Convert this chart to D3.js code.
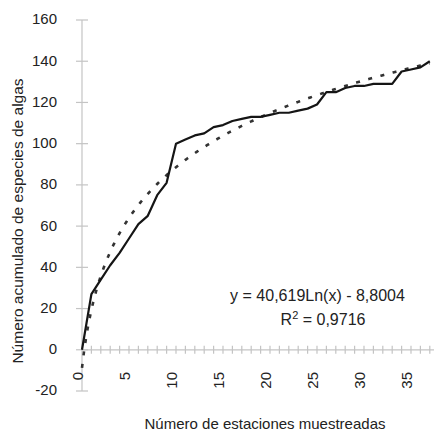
<!DOCTYPE html>
<html>
<head>
<meta charset="utf-8">
<script src="https://cdn.jsdelivr.net/npm/d3@7/dist/d3.min.js"></script>
<style>
  html, body { margin: 0; padding: 0; background: #fff; }
  svg { display: block; font-family: "Liberation Sans", Arial, Helvetica, sans-serif; }
</style>
</head>
<body>
<svg id="chart" width="434" height="433"></svg>
<script>
// Cumulative number of algae species against number of sampled stations
const stations = d3.range(0, 38);
const species = [0, 27, 34, 41, 47, 54, 61, 65, 75, 81,
                 100, 102, 104, 105, 108, 109, 111, 112, 113, 113,
                 114, 115, 115, 116, 117, 119, 125, 125, 127, 128,
                 128, 129, 129, 129, 135, 136, 137, 140];

// Logarithmic trend line (x = category index, starting at 1)
const trendA = 40.619;
const trendB = -8.8004;
const equationText = "y = 40,619Ln(x) - 8,8004";
const r2Text = "0,9716";

const yTicks = [-20, 0, 20, 40, 60, 80, 100, 120, 140, 160];
const xTickLabels = [0, 5, 10, 15, 20, 25, 30, 35];
const xTitle = "Número de estaciones muestreadas";
const yTitle = "Número acumulado de especies de algas";

const svg = d3.select("#chart");

const x = d3.scaleLinear().domain([0, 37]).range([82, 429.8]);
const y = d3.scaleLinear().domain([-20, 160]).range([391, 20]);

const axisColor = "#c4c4c4";
const textColor = "#222";

// Y axis line and cross ticks
svg.append("line")
  .attr("x1", x(0)).attr("x2", x(0))
  .attr("y1", y(160)).attr("y2", y(-20))
  .attr("stroke", axisColor).attr("stroke-width", 1.2);

svg.selectAll(".ytick").data(yTicks).enter().append("line")
  .attr("x1", x(0) - 6).attr("x2", x(0) + 6)
  .attr("y1", d => y(d)).attr("y2", d => y(d))
  .attr("stroke", axisColor).attr("stroke-width", 1.2);

svg.selectAll(".ylab").data(yTicks).enter().append("text")
  .attr("x", 57).attr("y", d => y(d) - 1)
  .attr("dy", "0.36em")
  .attr("text-anchor", "end")
  .attr("font-size", 15)
  .attr("fill", textColor)
  .text(d => d);

// X axis line at zero with a cross tick on every station
svg.append("line")
  .attr("x1", x(0)).attr("x2", 434)
  .attr("y1", y(0)).attr("y2", y(0))
  .attr("stroke", axisColor).attr("stroke-width", 1.2);

svg.selectAll(".xtick").data(stations.slice(1)).enter().append("line")
  .attr("x1", d => x(d)).attr("x2", d => x(d))
  .attr("y1", y(0) - 4).attr("y2", y(0) + 4)
  .attr("stroke", axisColor).attr("stroke-width", 1.2);

svg.selectAll(".xlab").data(xTickLabels).enter().append("text")
  .attr("transform", d => `translate(${x(d) - 4.5},372) rotate(-90)`)
  .attr("dy", "0.36em")
  .attr("text-anchor", "end")
  .attr("font-size", 15)
  .attr("fill", textColor)
  .text(d => d);

// Trend line
const trendPts = d3.range(0, 37.001, 0.1).map(s => [s, trendA * Math.log(s + 1) + trendB]);
svg.append("path")
  .datum(trendPts)
  .attr("d", d3.line().x(d => x(d[0])).y(d => y(d[1])))
  .attr("fill", "none")
  .attr("stroke", "#333")
  .attr("stroke-width", 2.6)
  .attr("stroke-dasharray", "4 8.6");

// Observed cumulative curve
svg.append("path")
  .datum(stations.map((s, i) => [s, species[i]]))
  .attr("d", d3.line().x(d => x(d[0])).y(d => y(d[1])))
  .attr("fill", "none")
  .attr("stroke", "#151515")
  .attr("stroke-width", 2.2)
  .attr("stroke-linejoin", "round");

// Regression equation
svg.append("text")
  .attr("x", 317.5).attr("y", 301)
  .attr("text-anchor", "middle")
  .attr("font-size", 16)
  .attr("fill", textColor)
  .text(equationText);

const r2 = svg.append("text")
  .attr("x", 323).attr("y", 325)
  .attr("text-anchor", "middle")
  .attr("font-size", 16)
  .attr("fill", textColor);
r2.append("tspan").text("R");
r2.append("tspan").attr("font-size", 11).attr("dy", -6).text("2");
r2.append("tspan").attr("dy", 6).text(" = " + r2Text);

// Axis titles
svg.append("text")
  .attr("x", 265).attr("y", 429)
  .attr("text-anchor", "middle")
  .attr("font-size", 15)
  .attr("fill", textColor)
  .text(xTitle);

svg.append("text")
  .attr("transform", "translate(23,221) rotate(-90)")
  .attr("text-anchor", "middle")
  .attr("font-size", 15.5)
  .attr("fill", textColor)
  .text(yTitle);
</script>
</body>
</html>
